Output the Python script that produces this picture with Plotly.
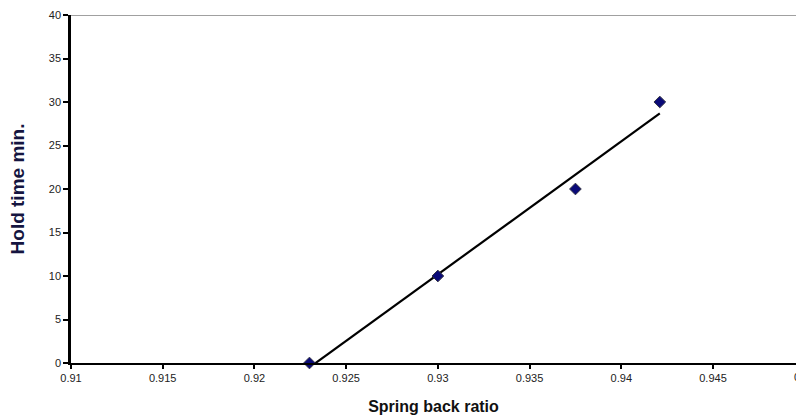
import numpy as np
import plotly.graph_objects as go

spring_back_ratio = [0.9230, 0.9300, 0.9375, 0.9421]
hold_time_min = [0, 10, 20, 30]
x_ticks = [0.91, 0.915, 0.92, 0.925, 0.93, 0.935, 0.94, 0.945, 0.95]
y_ticks = [0, 5, 10, 15, 20, 25, 30, 35, 40]

slope, intercept = np.polyfit(spring_back_ratio, hold_time_min, 1)
fit_x = [min(spring_back_ratio), max(spring_back_ratio)]
fit_y = [slope * v + intercept for v in fit_x]

W, H = 796, 419
ml, mr, mt, mb = 71, 0, 15, 56
x0 = 0.91
px_per_unit = (713 - 71) / 0.035
x1 = x0 + (W - ml - mr) / px_per_unit

fig = go.Figure()
fig.add_trace(go.Scatter(x=fit_x, y=fit_y, mode="lines",
                         line=dict(color="black", width=2.2), showlegend=False))
fig.add_trace(go.Scatter(x=spring_back_ratio, y=hold_time_min, mode="markers",
                         marker=dict(symbol="diamond", size=9, color="#0a0a78",
                                     line=dict(color="#333344", width=1)),
                         showlegend=False, cliponaxis=False))

tick_font = dict(family="Liberation Sans, Arial, sans-serif", size=11, color="#222222")
fig.update_layout(
    width=W, height=H,
    margin=dict(l=ml, r=mr, t=mt, b=mb),
    paper_bgcolor="white", plot_bgcolor="white",
    xaxis=dict(range=[x0, x1], tickvals=x_ticks, ticktext=[f"{v:g}" for v in x_ticks],
               showgrid=False, zeroline=False, showline=True, linecolor="black", linewidth=2,
               ticks="outside", ticklen=4, tickwidth=1.5, tickcolor="black",
               tickfont=tick_font,
               title=dict(text="<b>Spring back ratio</b>", standoff=18,
                          font=dict(family="Liberation Sans, Arial, sans-serif", size=16, color="#111111"))),
    yaxis=dict(range=[0, 40], tickvals=y_ticks, showgrid=False, zeroline=False,
               showline=True, linecolor="black", linewidth=2.5,
               ticks="outside", ticklen=5, tickwidth=1.5, tickcolor="black",
               tickfont=tick_font,
               title=dict(text="<b>Hold time min.</b>", standoff=20,
                          font=dict(family="Liberation Sans, Arial, sans-serif", size=19, color="#151540"))),
    shapes=[dict(type="line", xref="paper", yref="y", x0=0, x1=1, y0=40, y1=40,
                 line=dict(color="#a0a0a0", width=2))],
    annotations=[dict(xref="paper", yref="paper", x=(0.95 - x0) / (x1 - x0), y=0,
                      yshift=-14, text="0.95", showarrow=False, xanchor="center",
                      yanchor="middle", font=tick_font)],
)

fig.write_html("out.html")
